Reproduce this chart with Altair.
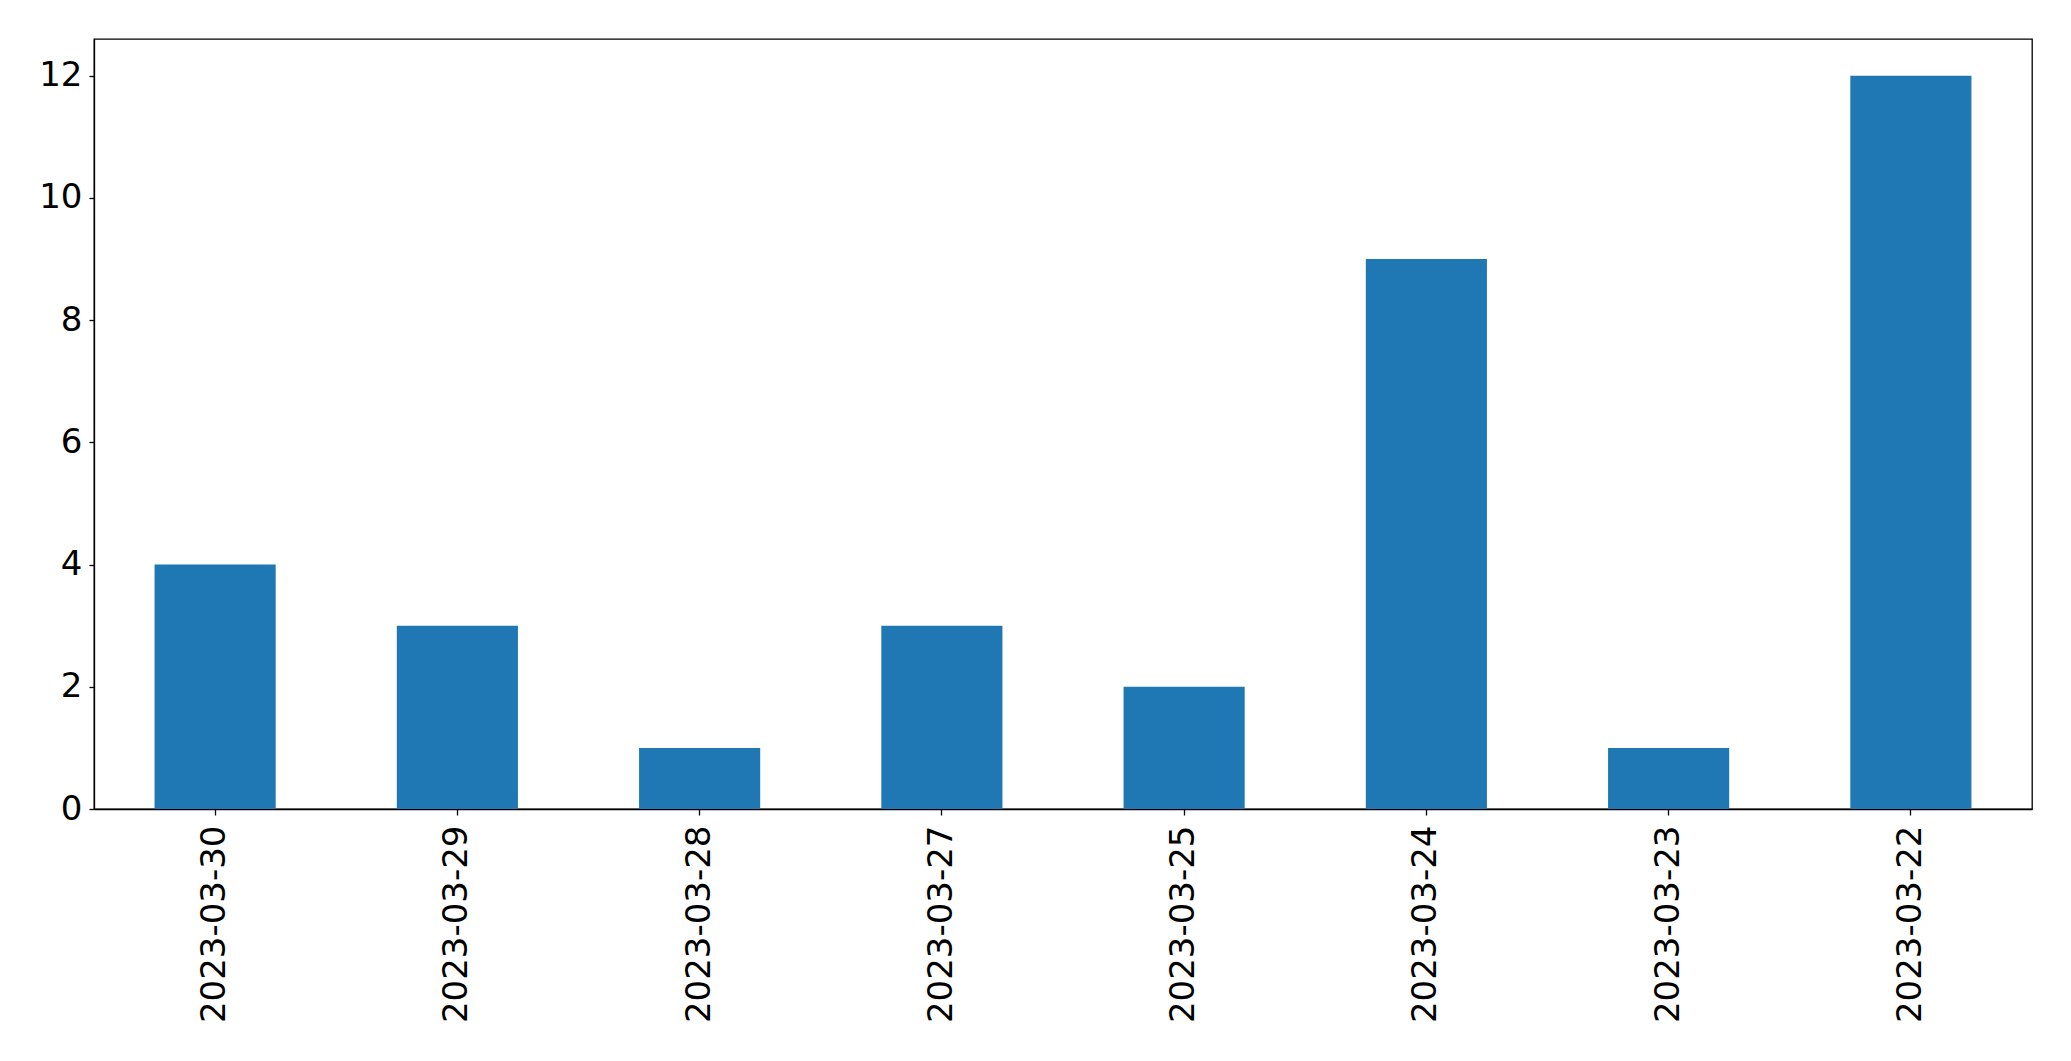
import altair as alt
import pandas as pd

dates = ["2023-03-30", "2023-03-29", "2023-03-28", "2023-03-27",
         "2023-03-25", "2023-03-24", "2023-03-23", "2023-03-22"]
counts = [4, 3, 1, 3, 2, 9, 1, 12]
y_ticks = [0, 2, 4, 6, 8, 10, 12]

df = pd.DataFrame({"date": dates, "count": counts})

chart = alt.Chart(df).mark_bar(color="#1f77b4").encode(
    x=alt.X("date:N", sort=dates, title=None,
            scale=alt.Scale(paddingInner=0.5, paddingOuter=0.25),
            axis=alt.Axis(labelAngle=270, labelFontSize=34, labelPadding=10,
                          labelLimit=0,
                          tickSize=6, labelFont="DejaVu Sans",
                          labelColor="black", tickColor="black",
                          domainColor="black")),
    y=alt.Y("count:Q", title=None,
            scale=alt.Scale(domain=[0, 12.6], nice=False, zero=True),
            axis=alt.Axis(values=y_ticks, grid=False, labelFontSize=34,
                          labelPadding=7, tickSize=5, labelFont="DejaVu Sans",
                          labelColor="black", tickColor="black",
                          domainColor="black")),
).properties(
    width=1938, height=770,
    autosize=alt.AutoSizeParams(type="none"),
    padding={"left": 86, "top": 31, "right": 30, "bottom": 240},
).configure_view(
    stroke="black", strokeWidth=1.3
).configure_axis(
    domainWidth=1.3, tickWidth=1.3
)

chart.save("out.html", embed_options={"renderer": "svg", "actions": False})
